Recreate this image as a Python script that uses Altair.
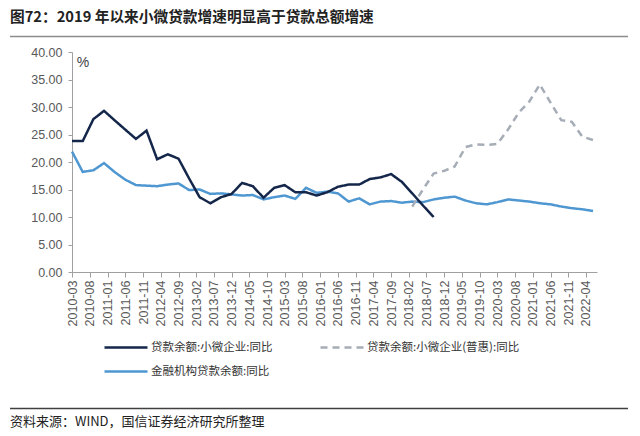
import altair as alt
import pandas as pd

# Quarterly year-on-year growth rates (%)
sme_loans = [
    23.8, 23.8, 27.8, 29.3, 27.6, 25.9, 24.2, 25.7, 20.5, 21.4, 20.6, 17.0,
    13.6, 12.5, 13.6, 14.2, 16.2, 15.6, 13.5, 15.3, 15.8, 14.5, 14.5, 13.9,
    14.5, 15.5, 15.9, 15.9, 16.9, 17.2, 17.8, 16.4, 14.3, 12.1, 10.0,
]
inclusive_sme_loans = [
    11.9, 15.0, 17.9, 18.4, 19.2, 22.7, 23.2, 23.1, 23.3, 25.9, 29.0, 31.0,
    34.1, 30.8, 27.6, 27.3, 24.6, 24.0,
]
total_loans = [
    21.9, 18.2, 18.5, 19.8, 18.2, 16.8, 15.8, 15.7, 15.6, 15.9, 16.1, 14.9,
    15.0, 14.2, 14.3, 14.1, 13.9, 14.0, 13.2, 13.6, 13.9, 13.3, 15.3, 14.4,
    14.6, 14.3, 12.8, 13.4, 12.3, 12.8, 12.9, 12.6, 12.8, 12.7, 13.2, 13.5,
    13.7, 13.0, 12.5, 12.3, 12.7, 13.2, 13.0, 12.8, 12.5, 12.3, 11.9, 11.6,
    11.4, 11.1,
]
sme_start = "2010-03-01"
inclusive_start = "2018-03-01"
total_start = "2010-03-01"

# legend entries fill column by column: first column holds the two solid lines
series_names = [
    "贷款余额:小微企业:同比",
    "金融机构贷款余额:同比",
    "贷款余额:小微企业(普惠):同比",
]
series_colors = ["#14264a", "#4f97d1", "#a6adb7"]
series_dashes = [[1, 0], [1, 0], [7, 5]]

tick_months = pd.date_range("2010-03-01", "2022-04-01", freq="5MS")


def quarterly(name, start, values):
    dates = pd.date_range(start, periods=len(values), freq="3MS")
    return pd.DataFrame({"date": dates, "value": values, "series": name})


df = pd.concat(
    [
        quarterly(series_names[1], total_start, total_loans),
        quarterly(series_names[0], sme_start, sme_loans),
        quarterly(series_names[2], inclusive_start, inclusive_sme_loans),
    ],
    ignore_index=True,
)

x_ticks = [alt.DateTime(year=d.year, month=d.month, date=1) for d in tick_months]
x_domain = [
    alt.DateTime(year=2010, month=3, date=1),
    alt.DateTime(year=2022, month=7, date=5),
]

legend_kw = dict(
    title=None,
    orient="none",
    legendX=31,
    legendY=289,
    columns=2,
    symbolType="M-1,0H7.6",
    symbolSize=100,
    symbolStrokeWidth=2.5,
    labelFont="Noto Sans CJK SC",
    labelFontSize=11.5,
    labelColor="#333333",
    labelLimit=300,
    labelOffset=35,
    columnPadding=42,
    rowPadding=12,
)

lines = (
    alt.Chart(df)
    .mark_line(strokeWidth=2.5)
    .encode(
        x=alt.X(
            "date:T",
            scale=alt.Scale(domain=x_domain),
            axis=alt.Axis(
                values=x_ticks,
                format="%Y-%m",
                labelAngle=-90,
                tickSize=5,
                labelPadding=3,
                labelFont="Liberation Sans",
                labelFontSize=12.5,
                labelColor="#595959",
                domainColor="#a0a0a0",
                tickColor="#a0a0a0",
                grid=False,
                title=None,
                labelOverlap=False,
            ),
        ),
        y=alt.Y(
            "value:Q",
            scale=alt.Scale(domain=[0, 40], nice=False),
            axis=alt.Axis(
                values=list(range(0, 45, 5)),
                format=".2f",
                tickSize=4,
                labelPadding=6,
                labelFont="Liberation Sans",
                labelFontSize=12.5,
                labelColor="#595959",
                domainColor="#a0a0a0",
                tickColor="#a0a0a0",
                grid=False,
                title=None,
            ),
        ),
        color=alt.Color(
            "series:N",
            scale=alt.Scale(domain=series_names, range=series_colors),
            legend=alt.Legend(**legend_kw),
        ),
        strokeDash=alt.StrokeDash(
            "series:N",
            scale=alt.Scale(domain=series_names, range=series_dashes),
            legend=alt.Legend(**legend_kw),
        ),
    )
)

unit = (
    alt.Chart(pd.DataFrame({"t": ["%"]}))
    .mark_text(font="Liberation Sans", fontSize=14, color="#404040", align="center", baseline="middle")
    .encode(text="t:N", x=alt.value(11), y=alt.value(11))
)

# header and footer separators
one_row = pd.DataFrame({"k": [0]})
top_rule = alt.Chart(one_row).mark_rule(color="#8c8c8c", strokeWidth=1.5, clip=False).encode(
    x=alt.value(-62), x2=alt.value(556), y=alt.value(-15.5)
)
bottom_rule = alt.Chart(one_row).mark_rule(color="#404040", strokeWidth=1.5, clip=False).encode(
    x=alt.value(-62), x2=alt.value(556), y=alt.value(356.5)
)

source = (
    alt.Chart(pd.DataFrame({"t": ["资料来源：WIND，国信证券经济研究所整理"]}))
    .mark_text(font="Noto Sans CJK SC", fontSize=13, color="#222222", align="left", baseline="middle")
    .encode(text="t:N", x=alt.value(-62), y=alt.value(370))
)

chart = (
    alt.layer(lines, unit, source, top_rule, bottom_rule)
    .properties(
        width=525,
        height=220,
        autosize=alt.AutoSizeParams(type="none"),
        padding={"left": 72, "top": 52, "right": 43, "bottom": 164},
        title=alt.TitleParams(
            "图72：2019 年以来小微贷款增速明显高于贷款总额增速",
            anchor="start",
            frame="group",
            dx=-62,
            offset=11,
            font="Noto Sans CJK SC",
            fontSize=14.7,
            fontWeight="bold",
            color="#222222",
        ),
    )
    .configure_view(stroke=None)
)

chart.save("out.html", embed_options={"renderer": "svg", "actions": False})
